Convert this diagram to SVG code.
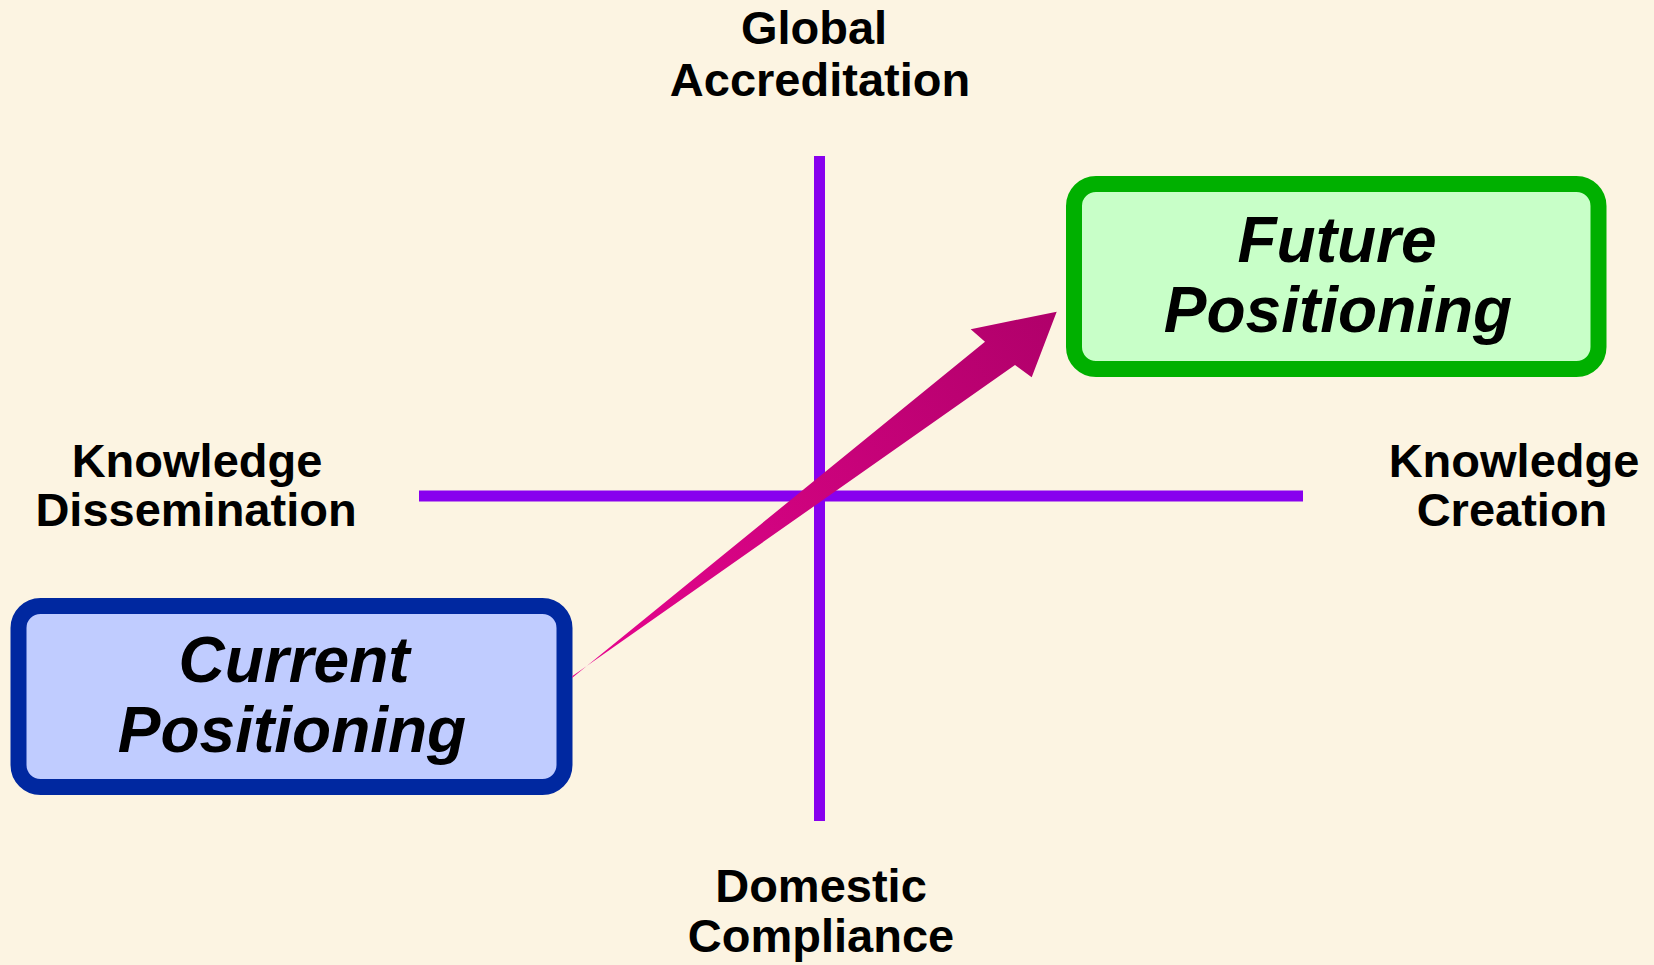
<svg xmlns="http://www.w3.org/2000/svg" width="1654" height="965" viewBox="0 0 1654 965">
<defs>
<style>
.lbl{font-family:"Liberation Sans",Arial,sans-serif;font-weight:bold;font-size:47px;fill:#000;text-anchor:middle}
.box{font-family:"Liberation Sans",Arial,sans-serif;font-weight:bold;font-style:italic;font-size:64px;fill:#000;text-anchor:middle}
.axis{stroke:#8800EE;stroke-width:11;fill:none}
</style>
<linearGradient id="ag" gradientUnits="userSpaceOnUse" x1="572" y1="677" x2="1056" y2="312">
<stop offset="0" stop-color="#E8058F"/>
<stop offset="1" stop-color="#B0006A"/>
</linearGradient>
</defs>
<rect x="0" y="0" width="1654" height="965" fill="#FCF4E2"/>
<g id="axes">
<line class="axis" x1="819.5" y1="156" x2="819.5" y2="821"/>
<line class="axis" x1="419" y1="496" x2="1303" y2="496"/>
</g>
<g id="labels">
<text class="lbl" x="814" y="44">Global</text>
<text class="lbl" x="820" y="96">Accreditation</text>
<text class="lbl" x="821" y="902">Domestic</text>
<text class="lbl" x="821" y="952">Compliance</text>
<text class="lbl" x="197" y="477">Knowledge</text>
<text class="lbl" x="196" y="526">Dissemination</text>
<text class="lbl" x="1514" y="477">Knowledge</text>
<text class="lbl" x="1512" y="526">Creation</text>
</g>
<g id="current">
<rect x="18.5" y="606" width="546" height="181" rx="22" ry="22" fill="#C0CCFF" stroke="#0028A0" stroke-width="16"/>
<text class="box" x="294" y="682">Current</text>
<text class="box" x="292" y="752">Positioning</text>
</g>
<g id="future">
<rect x="1074" y="184" width="524.5" height="185" rx="22" ry="22" fill="#C8FFC8" stroke="#00B000" stroke-width="16"/>
<text class="box" x="1337" y="262">Future</text>
<text class="box" x="1338" y="332">Positioning</text>
</g>
<g id="connectors">
<polygon fill="url(#ag)" points="572,678 985,341.7 970.7,329.3 1056.7,311.7 1031.7,377.3 1015,365 572.5,676"/>
</g>
</svg>
